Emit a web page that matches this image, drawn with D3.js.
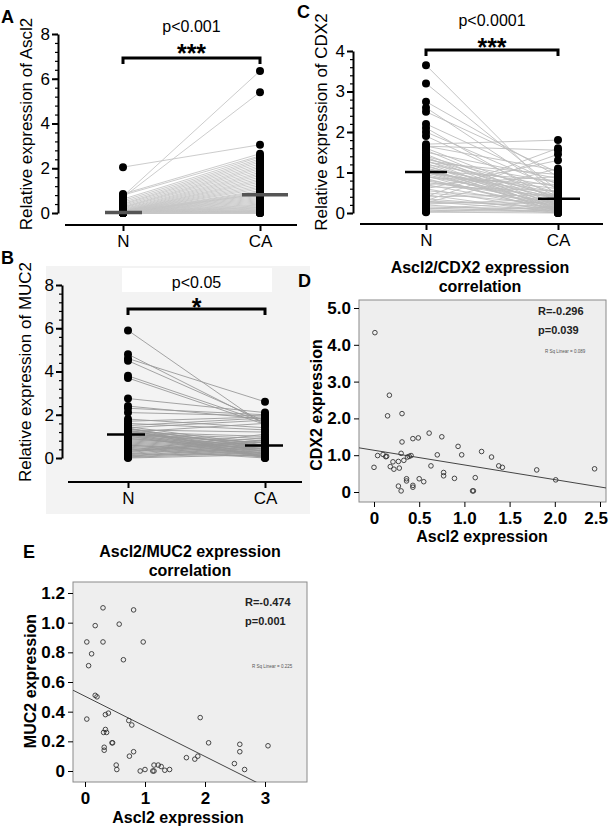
<!DOCTYPE html>
<html><head><meta charset="utf-8">
<script src="https://cdn.jsdelivr.net/npm/d3@7"></script>
<style>
body{margin:0;background:#fff;}
svg text{font-family:Arial,"Liberation Sans",sans-serif;}
</style>
</head><body>
<svg id="fig" width="609" height="827"></svg>
<script>
// ---------------- DATA ----------------
const groups = ["N", "CA"];

// Panel A: Ascl2 paired N / CA
const ascl2N  = [2.05,0.75,0.70,0.85,0.80,0.62,0.55,0.48,0.42,0.38,0.33,0.28,0.25,0.22,0.18,0.15,0.12,0.10,0.08,0.07,0.06,0.05,0.05,0.04,0.04,0.03,0.03,0.03,0.02,0.02,0.02,0.02,0.01,0.01,0.01,0.01,0.01,0.00,0.00,0.00,0.00,0.00,0.00,0.00,0.00,0.00,0.00,0.00,0.00,0.00,0.00,0.00,0.00,0.00,0.00,0.00,0.00,0.00,0.00,0.00];
const ascl2CA = [3.05,6.35,5.40,2.65,2.55,2.50,2.42,2.35,2.28,2.20,2.12,2.05,1.98,1.90,1.82,1.75,1.68,1.60,1.52,1.45,1.38,1.30,1.22,1.15,1.08,1.00,0.95,0.90,0.86,0.84,0.80,0.75,0.70,0.65,0.60,0.55,0.50,0.45,0.40,0.36,0.32,0.28,0.25,0.22,0.18,0.15,0.12,0.10,0.08,0.06,0.05,0.04,0.03,0.02,0.02,0.01,0.01,0.00,0.00,0.00];
const ascl2Ticks = [0,2,4,6,8];

// Panel C: CDX2 paired N / CA
const cdx2N  = [3.65,3.20,2.75,2.60,2.50,2.20,2.10,2.00,1.90,1.70,1.65,1.60,1.55,1.50,1.45,1.40,1.38,1.35,1.32,1.30,1.28,1.25,1.22,1.20,1.18,1.15,1.12,1.10,1.08,1.06,1.05,1.04,1.03,1.02,1.00,0.98,0.95,0.92,0.90,0.88,0.85,0.82,0.80,0.75,0.70,0.65,0.60,0.55,0.50,0.45,0.40,0.35,0.30,0.28,0.25,0.22,0.20,0.15,0.12,0.10,0.08,0.05,0.03,0.02,0.40,0.30,0.60,0.25,0.70,1.65];
const cdx2CA = [0.38,0.55,0.90,0.45,1.00,0.70,0.25,0.60,0.40,1.80,1.05,0.35,0.20,0.85,0.15,0.50,0.10,0.38,0.75,0.05,0.40,0.95,0.20,0.65,0.10,0.35,0.02,0.50,0.25,0.15,0.80,0.05,0.38,0.45,0.10,0.60,0.20,0.00,0.35,0.70,0.05,0.25,0.15,0.40,0.10,0.55,0.02,0.30,0.20,0.00,0.45,0.10,0.15,0.05,0.25,0.35,0.00,0.10,0.05,0.30,0.02,0.15,0.08,0.00,1.60,1.45,1.30,1.10,0.90,1.55];
const cdx2Ticks = [0,1,2,3,4];

// Panel B: MUC2 paired N / CA
const muc2N  = [5.90,4.80,4.60,4.50,3.80,3.70,2.75,2.40,2.30,2.10,1.80,1.70,1.60,1.50,1.45,1.40,1.35,1.30,1.25,1.20,1.18,1.15,1.12,1.10,1.08,1.05,1.02,1.00,0.95,0.90,0.85,0.80,0.75,0.70,0.65,0.60,0.55,0.50,0.45,0.40,0.35,0.30,0.25,0.20,0.15,0.10,0.08,0.05,0.03,0.00,1.40,1.30,1.20,1.10,0.90,0.60,0.30,1.35,1.25,0.20];
const muc2CA = [1.50,1.60,2.60,1.70,1.65,1.55,2.10,1.80,2.00,1.95,1.40,1.90,1.30,1.85,0.60,1.75,0.50,1.20,0.40,1.00,0.30,0.90,0.20,0.80,0.10,0.70,0.05,0.60,0.55,0.50,0.45,0.40,0.35,0.30,0.25,0.20,0.15,0.10,0.05,0.00,1.10,0.95,0.85,0.75,0.65,0.55,0.45,0.35,0.25,0.15,0.05,0.00,1.60,0.70,0.40,0.20,0.80,0.50,0.30,0.10];
const muc2Ticks = [0,2,4,6,8];

// Panel D: Ascl2 vs CDX2 scatter
const dAscl2 = [0.01,0.00,0.04,0.10,0.13,0.14,0.15,0.17,0.18,0.21,0.22,0.27,0.27,0.28,0.30,0.30,0.31,0.31,0.33,0.36,0.36,0.37,0.39,0.41,0.43,0.43,0.43,0.49,0.50,0.55,0.61,0.63,0.70,0.75,0.77,0.77,0.89,0.93,0.97,1.09,1.10,1.12,1.19,1.30,1.38,1.42,1.80,2.01,2.44];
const dCdx2  = [4.33,0.67,0.99,1.02,0.96,0.97,2.07,2.63,0.69,0.82,0.62,0.83,0.16,0.65,0.03,1.05,1.36,2.13,0.86,0.36,0.30,0.95,0.97,0.99,1.45,0.18,0.13,1.47,0.36,0.28,1.60,0.71,1.01,1.50,0.53,0.44,0.37,1.24,1.01,0.03,0.03,0.39,1.10,0.95,0.71,0.67,0.60,0.33,0.63];
const dXTicks = [0,0.5,1.0,1.5,2.0,2.5];
const dYTicks = [0,1,2,3,4,5];
const dFit = [1.134, -0.399]; // intercept, slope

// Panel E: Ascl2 vs MUC2 scatter
const eAscl2 = [0.30,0.81,0.17,0.57,0.03,0.30,0.97,0.11,0.64,0.06,0.17,0.20,0.03,0.34,0.39,0.73,0.78,0.34,0.36,0.31,0.45,0.46,0.32,0.32,0.74,0.81,0.52,0.53,0.92,1.00,1.13,1.15,1.15,1.22,1.27,1.33,1.41,1.69,1.83,1.88,1.92,2.06,2.49,2.58,2.58,2.66,3.05];
const eMuc2  = [1.10,1.086,0.98,0.99,0.87,0.87,0.87,0.79,0.75,0.71,0.51,0.50,0.35,0.38,0.39,0.34,0.31,0.28,0.26,0.26,0.19,0.19,0.16,0.14,0.10,0.13,0.04,0.01,0.00,0.01,0.00,0.04,0.00,0.04,0.03,0.005,0.01,0.09,0.08,0.10,0.36,0.19,0.05,0.18,0.13,0.01,0.17];
const eXTicks = [0,1,2,3];
const eYTicks = [0,0.2,0.4,0.6,0.8,1.0,1.2];
const eFit = [0.504, -0.203];

// ---------------- DRAW ----------------
const svg = d3.select("#fig");
const FONT = 'Arial, "Liberation Sans", sans-serif';

function styleAxis(sel, size, weight, sw) {
  sel.attr("font-family", FONT).attr("font-size", size).attr("font-weight", weight || "normal");
  sel.selectAll("text").attr("fill", "#000");
  sel.selectAll("line,path").attr("stroke", "#000").attr("stroke-width", sw || 1.5);
}

function paired(cfg, nVals, caVals) {
  const g = svg.append("g");
  const x = d3.scalePoint().domain(groups).range([cfg.xN, cfg.xCA]);
  const y = d3.scaleLinear().domain([0, cfg.ymax]).range([cfg.y0, cfg.y1]);
  const pairs = d3.zip(nVals, caVals);
  g.append("g").selectAll("line").data(pairs).join("line")
    .attr("x1", x("N")).attr("x2", x("CA"))
    .attr("y1", d => y(d[0])).attr("y2", d => y(d[1]))
    .attr("stroke", cfg.lineColor).attr("stroke-width", 0.9);
  [["N", nVals], ["CA", caVals]].forEach(([k, vals]) => {
    g.append("g").selectAll("circle").data(vals).join("circle")
      .attr("cx", x(k)).attr("cy", d => y(d)).attr("r", cfg.r).attr("fill", "#000");
  });
  // medians
  [["N", nVals, cfg.medN], ["CA", caVals, cfg.medCA]].forEach(([k, vals, hw]) => {
    const m = d3.median(vals);
    g.append("line").attr("x1", x(k) - hw[0]).attr("x2", x(k) + hw[1])
      .attr("y1", y(m)).attr("y2", y(m))
      .attr("stroke", cfg.medColor).attr("stroke-width", cfg.medW);
  });
  // y axis
  const minor = d3.range(0, cfg.ymax + 1e-9, cfg.minorStep);
  const ym = g.append("g").attr("transform", `translate(${cfg.axX},0)`)
    .call(d3.axisLeft(y).tickValues(minor).tickSize(3).tickSizeOuter(0).tickFormat(""));
  ym.select(".domain").remove();
  styleAxis(ym, 17, "normal", 1.2);
  const ya = g.append("g").attr("transform", `translate(${cfg.axX},0)`)
    .call(d3.axisLeft(y).tickValues(cfg.ticks).tickSize(6).tickSizeOuter(0).tickPadding(2).tickFormat(d3.format("d")));
  styleAxis(ya, 17, "normal", 2);
  // x axis
  const xa = g.append("g").attr("transform", `translate(0,${cfg.axY})`)
    .call(d3.axisBottom(x).tickSize(6).tickPadding(4));
  xa.select(".domain").remove();
  styleAxis(xa, 17, "normal", 2);
  g.append("line").attr("x1", cfg.xl0).attr("x2", cfg.xl1).attr("y1", cfg.axY).attr("y2", cfg.axY)
    .attr("stroke", "#000").attr("stroke-width", 2);
  // y label
  g.append("text").attr("transform", `translate(${cfg.labX},${cfg.labY}) rotate(-90)`)
    .attr("text-anchor", "middle").attr("font-size", 17).attr("font-family", FONT).text(cfg.ylabel);
  // bracket
  const bx0 = x("N"), bx1 = x("CA");
  g.append("path").attr("d", `M${bx0},${cfg.brY + 6}V${cfg.brY}H${bx1}V${cfg.brY + 6}`)
    .attr("fill", "none").attr("stroke", "#000").attr("stroke-width", 3);
  g.append("text").attr("x", (bx0 + bx1) / 2).attr("y", cfg.pY).attr("text-anchor", "middle")
    .attr("font-size", 16).attr("font-family", FONT).text(cfg.ptext);
  g.append("text").attr("x", (bx0 + bx1) / 2).attr("y", cfg.starY).attr("text-anchor", "middle")
    .attr("font-size", 25).attr("font-weight", "bold").attr("font-family", '"DejaVu Sans", sans-serif').text(cfg.stars);
  g.append("text").attr("x", cfg.letter[0]).attr("y", cfg.letter[1]).attr("font-size", 18)
    .attr("font-weight", "bold").attr("font-family", FONT).text(cfg.letterText);
}

// B background
svg.append("rect").attr("x", 46).attr("y", 266).attr("width", 264).attr("height", 248).attr("fill", "#f3f3f3");
svg.append("rect").attr("x", 122).attr("y", 268).attr("width", 150).attr("height", 24).attr("fill", "#fff");

paired({xN:123, xCA:260, ymax:8, y0:213, y1:34, axX:58, axY:225, xl0:65, xl1:297, minorStep:0.4,
  ticks:ascl2Ticks, r:4, lineColor:"#c6c6c6", medColor:"#555", medW:3.5, medN:[18,19], medCA:[18,28],
  labX:32, labY:124, ylabel:"Relative expression of Ascl2", brY:58, pY:32, ptext:"p<0.001",
  starY:62, stars:"***", letter:[1,23], letterText:"A"}, ascl2N, ascl2CA);

paired({xN:426, xCA:558, ymax:4, y0:213, y1:51, axX:353, axY:224, xl0:360, xl1:603, minorStep:0.2,
  ticks:cdx2Ticks, r:4, lineColor:"#bdbdbd", medColor:"#000", medW:2.5, medN:[21,21], medCA:[20,22],
  labX:327, labY:122, ylabel:"Relative expression of CDX2", brY:50, pY:26, ptext:"p<0.0001",
  starY:56, stars:"***", letter:[297,18], letterText:"C"}, cdx2N, cdx2CA);

paired({xN:128, xCA:265, ymax:8, y0:458, y1:285, axX:62, axY:482, xl0:68, xl1:302, minorStep:0.4,
  ticks:muc2Ticks, r:4, lineColor:"#9a9a9a", medColor:"#000", medW:2.5, medN:[21,17], medCA:[20,18],
  labX:31, labY:372, ylabel:"Relative expression of MUC2", brY:309, pY:288, ptext:"p<0.05",
  starY:316, stars:"*", letter:[1,264], letterText:"B"}, muc2N, muc2CA);

function scatter(cfg, xs, ys, fit) {
  const g = svg.append("g");
  const x = d3.scaleLinear().domain(cfg.xd).range(cfg.xr);
  const y = d3.scaleLinear().domain(cfg.yd).range(cfg.yr);
  const [L, T, R, B] = cfg.box;
  g.append("rect").attr("x", L).attr("y", T).attr("width", R - L).attr("height", B - T)
    .attr("fill", "#eeeeee").attr("stroke", "#8a8a8a").attr("stroke-width", 1);
  const cid = "clip" + cfg.id;
  g.append("clipPath").attr("id", cid).append("rect").attr("x", L).attr("y", T).attr("width", R - L).attr("height", B - T);
  const xs0 = x.invert(L), xs1 = x.invert(R);
  g.append("line").attr("clip-path", `url(#${cid})`)
    .attr("x1", x(xs0)).attr("y1", y(fit[0] + fit[1] * xs0))
    .attr("x2", x(xs1)).attr("y2", y(fit[0] + fit[1] * xs1))
    .attr("stroke", "#444").attr("stroke-width", 1);
  g.append("g").selectAll("circle").data(d3.zip(xs, ys)).join("circle")
    .attr("cx", d => x(d[0])).attr("cy", d => y(d[1])).attr("r", 2.3)
    .attr("fill", "none").attr("stroke", "#333").attr("stroke-width", 0.9);
  const ya = g.append("g").attr("transform", `translate(${L},0)`)
    .call(d3.axisLeft(y).tickValues(cfg.yt).tickSize(5).tickPadding(3).tickFormat(cfg.fmt));
  ya.select(".domain").remove();
  styleAxis(ya, 17, "bold", 1);
  const xa = g.append("g").attr("transform", `translate(0,${B})`)
    .call(d3.axisBottom(x).tickValues(cfg.xt).tickSize(5).tickPadding(5).tickFormat(cfg.xfmt));
  xa.select(".domain").remove();
  styleAxis(xa, 17, "bold", 1);
  // keep the last tick label inside the page
  xa.selectAll(".tick text").each(function() {
    const bb = this.getBBox();
    const tx = +d3.select(this.parentNode).attr("transform").match(/translate\(([-\d.]+)/)[1];
    const over = tx + bb.x + bb.width - 608;
    if (over > 0) d3.select(this).attr("x", -over);
  });
  g.append("text").attr("x", cfg.titleX).attr("y", cfg.titleY).attr("text-anchor", "middle")
    .attr("font-size", 16).attr("font-weight", "bold").attr("font-family", FONT).text(cfg.title1);
  g.append("text").attr("x", cfg.titleX).attr("y", cfg.titleY + 19).attr("text-anchor", "middle")
    .attr("font-size", 16).attr("font-weight", "bold").attr("font-family", FONT).text("correlation");
  g.append("text").attr("x", cfg.xlabX).attr("y", cfg.xlabY).attr("text-anchor", "middle")
    .attr("font-size", 16).attr("font-weight", "bold").attr("font-family", FONT).text("Ascl2 expression");
  g.append("text").attr("transform", `translate(${cfg.ylab[0]},${cfg.ylab[1]}) rotate(-90)`)
    .attr("text-anchor", "middle").attr("font-size", 16).attr("font-weight", "bold").attr("font-family", FONT).text(cfg.ylabel);
  g.append("text").attr("x", cfg.rX).attr("y", cfg.rY).attr("font-size", 11).attr("font-weight", "bold")
    .attr("font-family", FONT).attr("fill", "#222").text(cfg.rText);
  g.append("text").attr("x", cfg.rX).attr("y", cfg.rY + 19).attr("font-size", 11).attr("font-weight", "bold")
    .attr("font-family", FONT).attr("fill", "#222").text(cfg.pText);
  g.append("text").attr("x", cfg.rsX).attr("y", cfg.rsY).attr("font-size", 4.5)
    .attr("font-family", FONT).attr("fill", "#555").text(cfg.rsText);
  g.append("text").attr("x", cfg.letter[0]).attr("y", cfg.letter[1]).attr("font-size", 18)
    .attr("font-weight", "bold").attr("font-family", FONT).text(cfg.letterText);
}

const oneDec = d => d === 0 ? "0" : d3.format(".1f")(d);

scatter({id:"D", xd:[0,2.5], xr:[374,600], yd:[0,5], yr:[492,308], box:[359,300,606,502],
  xt:dXTicks, yt:dYTicks, fmt:oneDec, xfmt:oneDec,
  titleX:480, titleY:273, title1:"Ascl2/CDX2 expression", xlabX:482, xlabY:542,
  ylab:[322,405], ylabel:"CDX2 expression", rX:538, rY:315, rText:"R=-0.296", pText:"p=0.039",
  rsX:545, rsY:353, rsText:"R Sq Linear = 0.089", letter:[298,287], letterText:"D"}, dAscl2, dCdx2, dFit);

scatter({id:"E", xd:[0,3], xr:[85,265], yd:[0,1.2], yr:[771,593], box:[73,582,307,782],
  xt:eXTicks, yt:eYTicks, fmt:oneDec, xfmt:d3.format("d"),
  titleX:190, titleY:557, title1:"Ascl2/MUC2 expression", xlabX:178, xlabY:823,
  ylab:[36,681], ylabel:"MUC2 expression", rX:245, rY:606, rText:"R=-0.474", pText:"p=0.001",
  rsX:252, rsY:668, rsText:"R Sq Linear = 0.225", letter:[23,558], letterText:"E"}, eAscl2, eMuc2, eFit);
</script>
</body></html>
